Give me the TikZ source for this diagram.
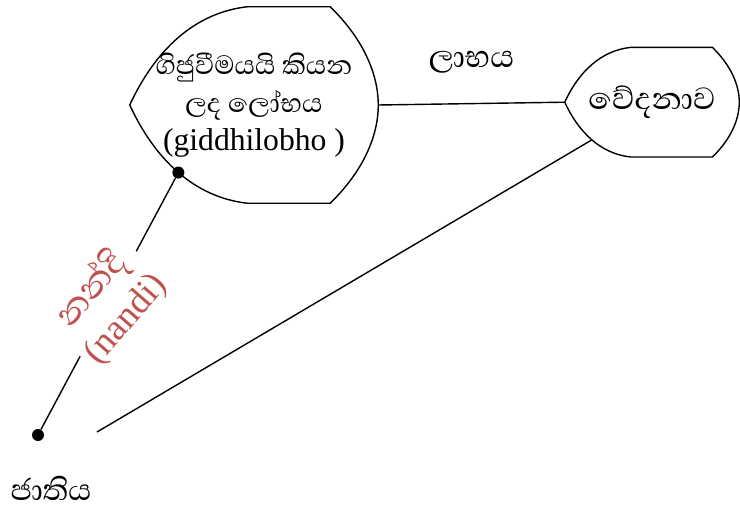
\documentclass[tikz,border=0pt]{standalone}
\usepackage{fontspec}
\usepackage{xcolor}
\usepackage{tikz}
\setmainfont{Liberation Serif}
\newfontfamily\sinhalafont[Script=Sinhala]{Abhaya Libre}
\definecolor{nandired}{RGB}{192, 80, 77}
\usetikzlibrary{positioning, calc}

% outline of a display box, pointed on the left and rounded on the right
\newcommand{\dispoutline}[1]{%
  \draw[outline] let \p1=(#1.north west), \p2=(#1.south east),
      \n1={\y1-\y2}, \n2={(\y1+\y2)/2} in
    (\x1,\n2)
      .. controls ({\x1+0.13*\n1},{\n2+0.28*\n1}) and ({\x1+0.33*\n1},{\y1-0.03*\n1}) .. ({\x1+0.6*\n1},\y1)
      -- ({\x2-0.245*\n1},\y1)
      .. controls ({\x2-0.07*\n1},{\y1-0.17*\n1}) and (\x2,{\n2+0.15*\n1}) .. (\x2,\n2)
      .. controls (\x2,{\n2-0.15*\n1}) and ({\x2-0.07*\n1},{\y2+0.17*\n1}) .. ({\x2-0.245*\n1},\y2)
      -- ({\x1+0.6*\n1},\y2)
      .. controls ({\x1+0.33*\n1},{\y2+0.03*\n1}) and ({\x1+0.13*\n1},{\n2-0.28*\n1}) .. (\x1,\n2)
      coordinate[pos=0.5] (#1-ll) -- cycle;
}

\begin{document}
\begin{tikzpicture}[
    displaybox/.style={rectangle, inner sep=0pt, align=center},
    outline/.style={line width=1pt, line join=round},
    link/.style={line width=1pt},
    dot/.style={circle, fill, inner sep=0pt, minimum size=0.3cm},
    bigtext/.style={font=\fontsize{28}{30}\selectfont}
]
    \useasboundingbox (0,0) rectangle (18.5,12.775);

    % Display boxes
    \node[displaybox, minimum width=6.2cm, minimum height=4.9cm, font=\fontsize{22.5}{27}\selectfont] (greed) at (6.35, 10.15)
        {{\sinhalafont\fontsize{24}{27}\selectfont ගිජුවීමයයි කියන}\\{\sinhalafont\fontsize{24}{27}\selectfont ලද ලෝභය}\\(giddhilobho )};
    \node[displaybox, minimum width=4.35cm, minimum height=2.725cm, bigtext] (feeling) at (16.3, 10.22)
        {\sinhalafont වේදනාව};
    \dispoutline{greed}
    \dispoutline{feeling}

    % Links
    \draw[link] (greed.east) -- node[above=0.62cm, bigtext] (gain) {\sinhalafont ලාභය} (feeling.west);

    \node[dot] (greeddot) at (greed-ll) {};
    \node[dot] (birth) at (0.95, 1.9) {};
    \coordinate (birthend) at (2.425, 1.975);
    \draw[link] (feeling-ll) -- (birthend);

    \draw[link] (greeddot) -- ($(greeddot)!0.3!(birth)$);
    \draw[link] ($(greeddot)!0.7!(birth)$) -- (birth);
    \node[rotate=49, text=nandired, align=center, font=\fontsize{26}{32}\selectfont] (nandi) at ($(greeddot)!0.5!(birth)$)
        {{\sinhalafont\fontsize{32}{32}\selectfont නන්දි}\\(nandi)};

    \node[font=\fontsize{27}{29}\selectfont, inner sep=1pt] (birthlabel) at (1.275, 0.56) {\sinhalafont ජාතිය};

\end{tikzpicture}
\end{document}
